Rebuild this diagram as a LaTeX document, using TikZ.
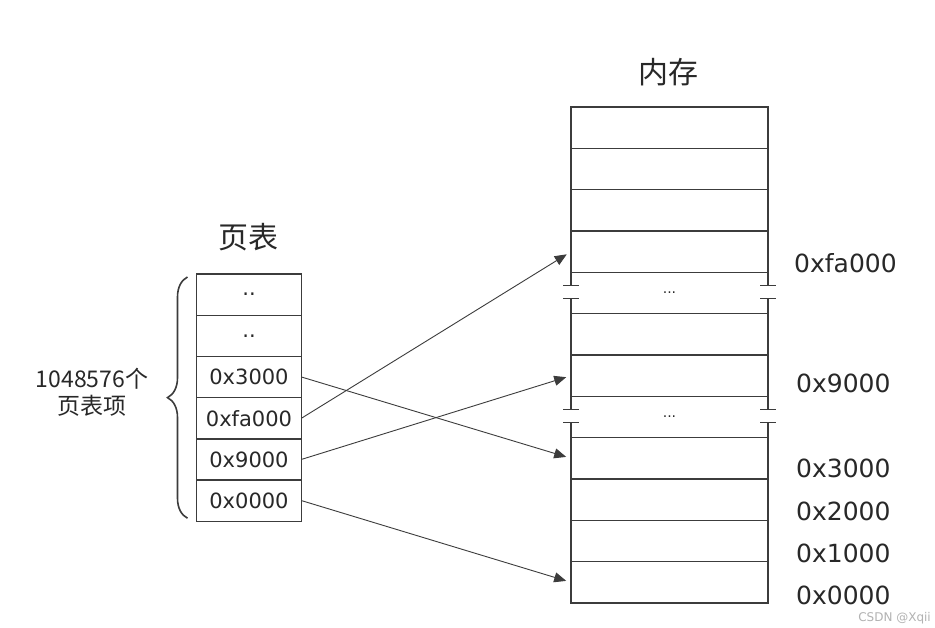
\documentclass[tikz,border=0pt]{standalone}
\usepackage{fontspec}
\setmainfont{DejaVu Sans}
\newfontfamily\cjk{Noto Sans CJK SC}
\definecolor{linegray}{RGB}{60,60,60}
\definecolor{textgray}{RGB}{40,40,40}
\usetikzlibrary{positioning,arrows.meta,calc,decorations.pathreplacing}

\begin{document}
\begin{tikzpicture}[x=1pt,y=-1pt,
    ptcell/.style={draw=linegray,line width=1.4pt,rectangle,outer sep=0pt,inner sep=0pt,minimum width=105pt,minimum height=41.2pt,text=textgray,font=\fontsize{21}{24}\selectfont},
    memcell/.style={draw=linegray,line width=1.3pt,rectangle,outer sep=0pt,inner sep=0pt,minimum width=197pt,minimum height=41.33pt},
    gapcell/.style={memcell,draw=none,font=\fontsize{14}{14}\selectfont,text=textgray},
    addr/.style={anchor=west,inner sep=1pt,text=textgray,font=\fontsize{25}{28}\selectfont},
    link/.style={-{Triangle[length=12pt,width=10pt]},linegray,line width=0.9pt,shorten >=5pt},
    brk/.style={linegray,line width=1.3pt}]
    \fill[white] (0,0) rectangle (935,627);
    \useasboundingbox (0,0) rectangle (935,627);

    % page table
    \node[font=\cjk\fontsize{30}{32}\selectfont,text=textgray] (pttitle) at (248,237) {页表};
    \node[ptcell] (p1) at (249,294.6) {..};
    \node[ptcell,below=0pt of p1] (p2) {..};
    \node[ptcell,below=0pt of p2] (p3) {0x3000};
    \node[ptcell,below=0pt of p3] (p4) {0xfa000};
    \node[ptcell,below=0pt of p4] (p5) {0x9000};
    \node[ptcell,below=0pt of p5] (p6) {0x0000};

    \draw[linegray,line width=1.6pt,decorate,decoration={brace,amplitude=20pt}] ($(p6.south west)+(-9,-3)$) -- ($(p1.north west)+(-9,3)$);
    \node[font=\cjk\fontsize{23}{27}\selectfont,text=textgray,align=center] (ptcount) at (92,392) {1048576个\\页表项};

    % memory
    \node[font=\cjk\fontsize{30}{32}\selectfont,text=textgray] (memtitle) at (668,72) {内存};
    \node[memcell] (m1) at (669.5,127.7) {};
    \node[memcell,below=0pt of m1] (m2) {};
    \node[memcell,below=0pt of m2] (m3) {};
    \node[memcell,below=0pt of m3] (m4) {};
    \node[gapcell,below=0pt of m4] (m5) {...};
    \node[memcell,below=0pt of m5] (m6) {};
    \node[memcell,below=0pt of m6] (m7) {};
    \node[gapcell,below=0pt of m7] (m8) {...};
    \node[memcell,below=0pt of m8] (m9) {};
    \node[memcell,below=0pt of m9] (m10) {};
    \node[memcell,below=0pt of m10] (m11) {};
    \node[memcell,below=0pt of m11] (m12) {};

    % broken sides of the skipped rows
    \foreach \g in {m5,m8}{
        \foreach \c/\d in {north west/south west,north east/south east}{
            \draw[brk] (\g.\c) -- ++(0,13) ++(-8,0) -- ++(16,0);
            \draw[brk] (\g.\d) -- ++(0,-15) ++(-8,0) -- ++(16,0);
        }
    }

    \node[addr] (afa) at (793,263) {0xfa000};
    \node[addr] (a9) at (795,383) {0x9000};
    \node[addr] (a3) at (795,468) {0x3000};
    \node[addr] (a2) at (795,511) {0x2000};
    \node[addr] (a1) at (795,553) {0x1000};
    \node[addr] (a0) at (795,595) {0x0000};

    \draw[link] (p3.east) -- (m9.west);
    \draw[link] (p4.east) -- (m4.west);
    \draw[link] (p5.east) -- (m7.west);
    \draw[link] (p6.east) -- (m12.west);

    \node[anchor=east,inner sep=1pt,text=black!30,font=\fontsize{12}{12}\selectfont] (mark) at (932,618) {CSDN @Xqii};
\end{tikzpicture}
\end{document}
